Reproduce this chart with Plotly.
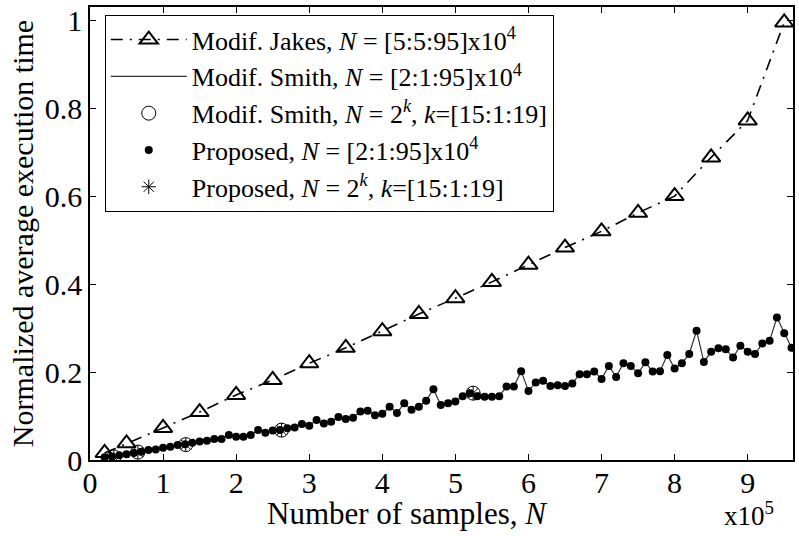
import plotly.graph_objects as go

# ---- data (N in units of 1e4 samples) ----
jakes_n = [2, 5, 10, 15, 20, 25, 30, 35, 40, 45, 50, 55, 60, 65, 70, 75, 80, 85, 90, 95]
jakes_t = [0.016, 0.038, 0.073, 0.109, 0.148, 0.182, 0.220, 0.255, 0.293, 0.332,
           0.368, 0.405, 0.444, 0.483, 0.520, 0.562, 0.600, 0.688, 0.772, 0.995]

prop_n = list(range(2, 97))
prop_t = [0.006, 0.008, 0.011, 0.013, 0.016, 0.019, 0.023, 0.024, 0.028, 0.030,
          0.034, 0.036, 0.039, 0.042, 0.044, 0.048, 0.048, 0.057, 0.053, 0.053,
          0.057, 0.068, 0.062, 0.067, 0.068, 0.072, 0.074, 0.082, 0.078, 0.091,
          0.083, 0.087, 0.098, 0.093, 0.096, 0.110, 0.112, 0.102, 0.105, 0.121,
          0.107, 0.129, 0.114, 0.121, 0.135, 0.161, 0.125, 0.129, 0.133, 0.145,
          0.152, 0.145, 0.144, 0.144, 0.145, 0.167, 0.167, 0.202, 0.157, 0.176,
          0.180, 0.168, 0.170, 0.168, 0.174, 0.195, 0.195, 0.201, 0.184, 0.214,
          0.189, 0.220, 0.214, 0.197, 0.222, 0.201, 0.202, 0.239, 0.208, 0.220,
          0.241, 0.294, 0.223, 0.246, 0.254, 0.252, 0.233, 0.260, 0.246, 0.241,
          0.265, 0.271, 0.324, 0.288, 0.255]
smith_t = list(prop_t)

pow2_n = [32768, 65536, 131072, 262144, 524288]
smith_pow2_t = [0.007, 0.018, 0.035, 0.068, 0.152]
prop_pow2_t = [0.007, 0.018, 0.035, 0.068, 0.152]

x_ticks = [0, 1, 2, 3, 4, 5, 6, 7, 8, 9]
y_ticks = [0, 0.2, 0.4, 0.6, 0.8, 1]

FONT = "Liberation Serif"

fig = go.Figure()
fig.add_trace(go.Scatter(
    x=[n * 1e4 for n in jakes_n], y=jakes_t, mode="lines+markers",
    name="Modif. Jakes, <i>N</i> = [5:5:95]x10<sup>4</sup>",
    line=dict(color="black", width=1.6, dash="12px,7px,2px,7px"),
    marker=dict(symbol="triangle-up-open", size=16, color="black", line=dict(width=2))))
fig.add_trace(go.Scatter(
    x=[n * 1e4 for n in prop_n], y=smith_t, mode="lines",
    name="Modif. Smith, <i>N</i> = [2:1:95]x10<sup>4</sup>",
    line=dict(color="#333333", width=1.2)))
fig.add_trace(go.Scatter(
    x=pow2_n, y=smith_pow2_t, mode="markers",
    name="Modif. Smith, <i>N</i> = 2<sup><i>k</i></sup>, <i>k</i>=[15:1:19]",
    marker=dict(symbol="circle-open", size=14, color="black", line=dict(width=1))))
fig.add_trace(go.Scatter(
    x=[n * 1e4 for n in prop_n], y=prop_t, mode="markers",
    name="Proposed, <i>N</i> = [2:1:95]x10<sup>4</sup>",
    marker=dict(symbol="circle", size=8, color="black")))
fig.add_trace(go.Scatter(
    x=pow2_n, y=prop_pow2_t, mode="markers",
    name="Proposed, <i>N</i> = 2<sup><i>k</i></sup>, <i>k</i>=[15:1:19]",
    marker=dict(symbol="asterisk-open", size=12, color="black", line=dict(width=1))))

axis_common = dict(showline=True, linecolor="black", linewidth=1.5, mirror="ticks",
                   ticks="inside", ticklen=6, tickcolor="black", showgrid=False,
                   zeroline=False, tickfont=dict(family=FONT, size=30, color="black"))

fig.update_layout(
    width=799, height=536,
    margin=dict(l=90, r=4, t=7, b=76),
    plot_bgcolor="white", paper_bgcolor="white",
    font=dict(family=FONT, color="black"),
    xaxis=dict(range=[0, 9.62e5], tickvals=[v * 1e5 for v in x_ticks],
               ticktext=[str(v) for v in x_ticks], ticklabelstandoff=-5,
               **axis_common),
    yaxis=dict(range=[0, 1.03], tickvals=y_ticks,
               ticktext=[("%g" % v) for v in y_ticks],
               title=dict(text="Normalized average execution time", font=dict(family=FONT, size=30), standoff=2),
               **axis_common),
    legend=dict(x=0.021, y=0.982, xanchor="left", yanchor="top",
                bgcolor="white", bordercolor="black", borderwidth=1,
                font=dict(family=FONT, size=26, color="black"),
                itemwidth=76, tracegroupgap=0),
    showlegend=True,
)
fig.add_annotation(xref="paper", yref="paper", x=0.451, y=-0.119, xanchor="center", yanchor="middle",
                   text="Number of samples, <i>N</i>", showarrow=False,
                   font=dict(family=FONT, size=31, color="black"))
fig.add_annotation(xref="paper", yref="paper", x=0.976, y=-0.162, xanchor="right", yanchor="bottom",
                   text="x10<sup>5</sup>", showarrow=False, font=dict(family=FONT, size=27, color="black"))

fig.write_html("out.html", config={"displayModeBar": False},
               post_script="document.body.style.margin='0';document.body.style.overflow='hidden';")
